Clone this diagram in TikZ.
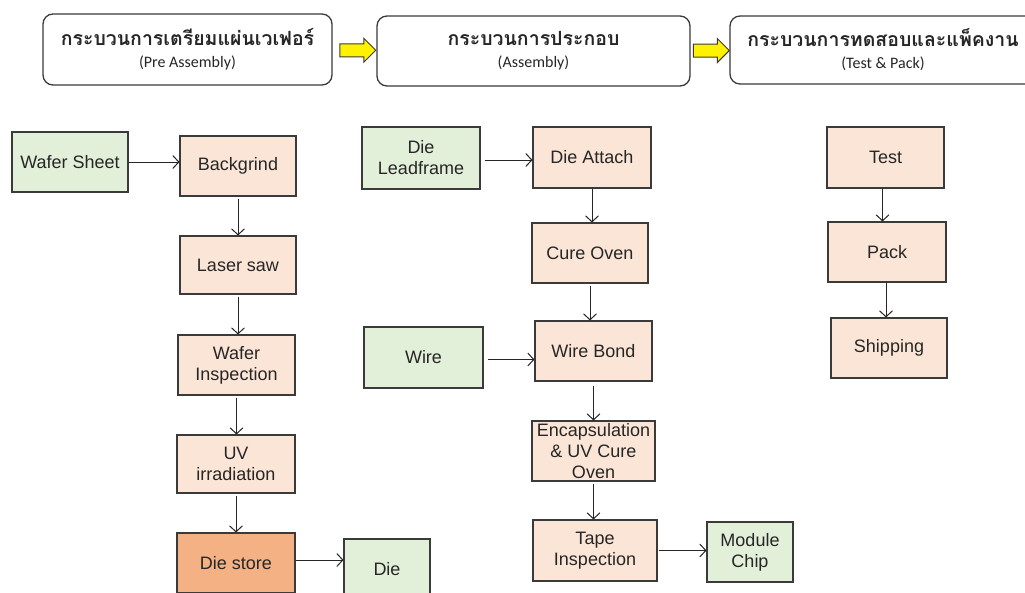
\documentclass[tikz,border=0pt]{standalone}
\usepackage{fontspec}
\setmainfont{Liberation Sans}
\newfontfamily\thaifont[Script=Thai]{Loma}
\newfontfamily\subfont{Carlito}
\usetikzlibrary{arrows.meta,shapes.arrows,calc}
\definecolor{peach}{HTML}{FBE5D6}
\definecolor{mint}{HTML}{E2F0D9}
\definecolor{orng}{HTML}{F4B183}
\definecolor{edge}{HTML}{3A3A3A}
\begin{document}
\begin{tikzpicture}[x=1pt,y=-1pt,
  hdr/.style={draw=edge, line width=1.3pt, rounded corners=10pt, fill=white, inner sep=0pt, align=center,
    font=\subfont\fontsize{16}{22}\selectfont, text=black!85},
  thai/.style={},
  proc/.style={draw=edge, line width=1.1pt, inner sep=0pt, align=center,
    font=\fontsize{18}{21}\selectfont, text=black!85},
  stepbox/.style={proc, fill=peach},
  srcbox/.style={proc, fill=mint},
  storebox/.style={proc, fill=orng},
  flow/.style={draw=black!85, line width=1pt, -{Straight Barb[length=6pt,width=13pt]}},
  yarrow/.style={single arrow, draw=edge, line width=1pt, fill=yellow, inner xsep=0pt, inner ysep=6pt,
    minimum height=36pt, single arrow head extend=5.5pt}
]
\useasboundingbox (0,0) rectangle (1025,592);
\fill[white] (0,0) rectangle (1025,592);
\clip (0,0) rectangle (1025,592);

% headers
\node[hdr, minimum width=289pt, minimum height=71pt] (h1) at (187.5,49.5)
  {{\thaifont\bfseries\fontsize{19.5}{22}\selectfont กระบวนการเตรียมแผ่นเวเฟอร์}\\(Pre Assembly)};
\node[hdr, minimum width=313pt, minimum height=70pt] (h2) at (533.5,51)
  {{\thaifont\bfseries\fontsize{19.5}{22}\selectfont กระบวนการประกอบ}\\(Assembly)};
\node[hdr, minimum width=306pt, minimum height=68pt] (h3) at (883,50)
  {{\thaifont\bfseries\fontsize{19.5}{22}\selectfont กระบวนการทดสอบและแพ็คงาน}\\(Test \& Pack)};
\node[yarrow] (a1) at ($(h1.east)!0.5!(h2.west)$) {};
\node[yarrow] (a2) at ($(h2.east)!0.45!(h3.west)$) {};

% column 1
\node[srcbox, minimum width=116pt, minimum height=60pt] (ws) at (70,162) {Wafer Sheet};
\node[stepbox, minimum width=116pt, minimum height=60pt] (bg) at (238,166) {Backgrind};
\node[stepbox, minimum width=116pt, minimum height=58pt] (ls) at (238,265) {Laser saw};
\node[stepbox, minimum width=117pt, minimum height=60pt] (wi) at (236.5,365) {Wafer\\Inspection};
\node[stepbox, minimum width=118pt, minimum height=58pt] (uv) at (236,464) {UV\\irradiation};
\node[storebox, minimum width=118pt, minimum height=60pt] (ds) at (236,563) {Die store};
\node[srcbox, minimum width=86pt, minimum height=60pt] (die) at (387,569) {Die};

% column 2
\node[srcbox, minimum width=118pt, minimum height=62pt] (dl) at (421,158) {Die\\Leadframe};
\node[stepbox, minimum width=118pt, minimum height=61pt] (da) at (592,157.5) {Die Attach};
\node[stepbox, minimum width=116pt, minimum height=60pt] (co) at (590,253) {Cure Oven};
\node[srcbox, minimum width=119pt, minimum height=61pt] (wire) at (423.5,357.5) {Wire};
\node[stepbox, minimum width=117pt, minimum height=60pt] (wb) at (593.5,351) {Wire Bond};
\node[stepbox, minimum width=123pt, minimum height=60pt] (enc) at (593.5,451) {Encapsulation\\\& UV Cure\\Oven};
\node[stepbox, minimum width=124pt, minimum height=61pt] (tape) at (595,550.5) {Tape\\Inspection};
\node[srcbox, minimum width=86pt, minimum height=60pt] (mc) at (750,552) {Module\\Chip};

% column 3
\node[stepbox, minimum width=117pt, minimum height=61pt] (test) at (885.5,157.5) {Test};
\node[stepbox, minimum width=118pt, minimum height=60pt] (pack) at (887,252) {Pack};
\node[stepbox, minimum width=116pt, minimum height=60pt] (ship) at (889,348) {Shipping};

% connectors
\draw[flow] (ws.east) -- (ws.east -| bg.west);
\draw[flow, shorten <=2pt] (bg.south) -- (bg.south |- ls.north);
\draw[flow, shorten <=2pt] (ls.south) -- (ls.south |- wi.north);
\draw[flow, shorten <=2pt] (wi.south) -- (wi.south |- uv.north);
\draw[flow, shorten <=2pt] (uv.south) -- (uv.south |- ds.north);
\draw[flow] ([yshift=3pt]ds.east) -- ([yshift=3pt]ds.east -| die.west);

\draw[flow, shorten <=4pt] ([yshift=-2pt]dl.east) -- ([yshift=-2pt]dl.east -| da.west);
\draw[flow] (da.south) -- (da.south |- co.north);
\draw[flow, shorten <=2pt] (co.south) -- (co.south |- wb.north);
\draw[flow, shorten <=4pt] ([yshift=-2pt]wire.east) -- ([yshift=-2pt]wire.east -| wb.west);
\draw[flow, shorten <=4pt] (wb.south) -- (wb.south |- enc.north);
\draw[flow, shorten <=2pt] (enc.south) -- (enc.south |- tape.north);
\draw[flow, shorten <=1pt] (tape.east) -- (tape.east -| mc.west);

\draw[flow] ([xshift=-3pt]test.south) -- ([xshift=-3pt]test.south |- pack.north);
\draw[flow] ([xshift=-1pt]pack.south) -- ([xshift=-1pt]pack.south |- ship.north);
\end{tikzpicture}
\end{document}
